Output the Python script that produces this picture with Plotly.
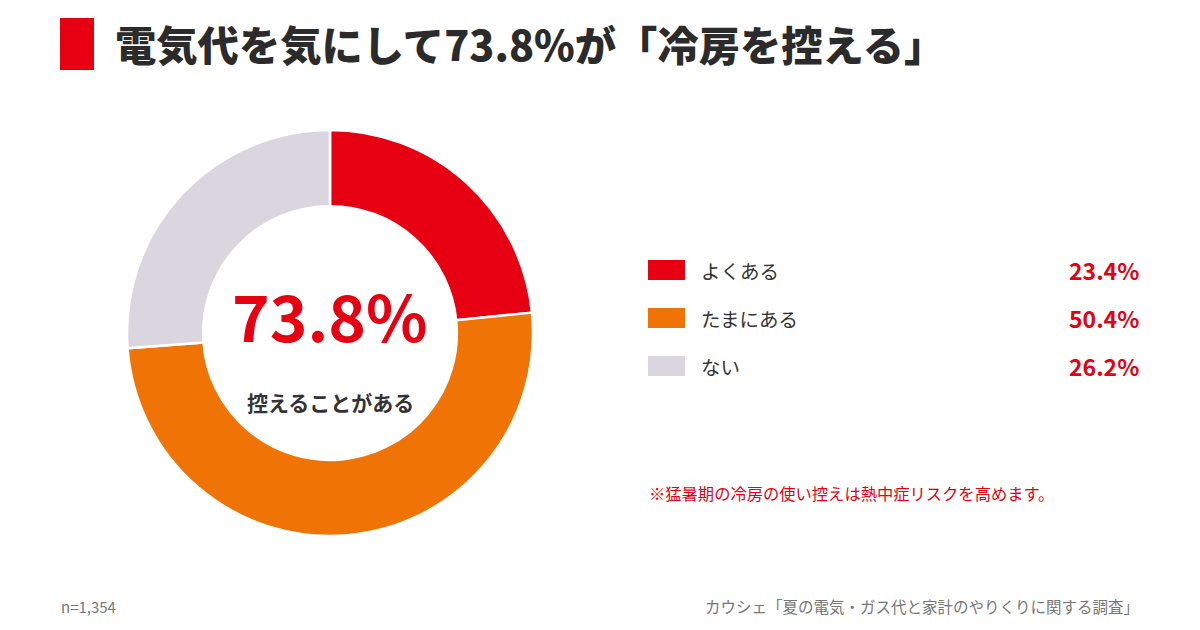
import plotly.graph_objects as go

categories = ["よくある", "たまにある", "ない"]
values = [23.4, 50.4, 26.2]
colors = ["#E60012", "#F07305", "#D9D6E0"]
value_labels = ["23.4%", "50.4%", "26.2%"]

title_text = "電気代を気にして73.8%が「冷房を控える」"
center_value = "73.8%"
center_label = "控えることがある"
note_text = "※猛暑期の冷房の使い控えは熱中症リスクを高めます。"
n_text = "n=1,354"
source_text = "カウシェ「夏の電気・ガス代と家計のやりくりに関する調査」"

W, H = 1200, 630
FONT = "Noto Sans CJK JP"

def px(x):
    return x / W

def py(y):
    return 1 - y / H

fig = go.Figure()
fig.add_trace(go.Pie(
    labels=categories,
    values=values,
    marker=dict(colors=colors, line=dict(color="white", width=2.5)),
    hole=0.625,
    sort=False,
    direction="clockwise",
    rotation=0,
    textinfo="none",
    hoverinfo="label+percent",
    showlegend=False,
    domain=dict(x=[px(127), px(533)], y=[py(536), py(130)]),
))

shapes = []
annotations = []

# Title bar
shapes.append(dict(type="rect", xref="paper", yref="paper",
                   x0=px(60), x1=px(94), y0=py(70), y1=py(18),
                   fillcolor="#E60012", line=dict(width=0)))
annotations.append(dict(text=title_text, xref="paper", yref="paper",
                        x=px(113), y=py(43), xanchor="left", yanchor="middle",
                        showarrow=False,
                        font=dict(family=FONT, size=41.3, color="#2b2b2b", weight=900)))

# Center text
annotations.append(dict(text="<b>" + center_value + "</b>", xref="paper", yref="paper",
                        x=px(330), y=py(314), xanchor="center", yanchor="middle",
                        showarrow=False, font=dict(family=FONT, size=64, color="#E60012")))
annotations.append(dict(text="<b>" + center_label + "</b>", xref="paper", yref="paper",
                        x=px(330), y=py(402), xanchor="center", yanchor="middle",
                        showarrow=False, font=dict(family=FONT, size=21, color="#333333")))

# Legend rows
row_y = [270, 318, 366]
for cat, col, vl, yy in zip(categories, colors, value_labels, row_y):
    shapes.append(dict(type="rect", xref="paper", yref="paper",
                       x0=px(648), x1=px(685), y0=py(yy + 10), y1=py(yy - 10),
                       fillcolor=col, line=dict(width=0)))
    annotations.append(dict(text=cat, xref="paper", yref="paper",
                            x=px(699), y=py(yy), xanchor="left", yanchor="middle",
                            showarrow=False, font=dict(family=FONT, size=19.5, color="#333333")))
    annotations.append(dict(text="<b>" + vl + "</b>", xref="paper", yref="paper",
                            x=px(1141), y=py(yy), xanchor="right", yanchor="middle",
                            showarrow=False, font=dict(family=FONT, size=23, color="#E60012")))

annotations.append(dict(text=note_text, xref="paper", yref="paper",
                        x=px(647), y=py(493), xanchor="left", yanchor="middle",
                        showarrow=False, font=dict(family=FONT, size=16.3, color="#E60012")))
annotations.append(dict(text=n_text, xref="paper", yref="paper",
                        x=px(59), y=py(606), xanchor="left", yanchor="middle",
                        showarrow=False, font=dict(family=FONT, size=15, color="#777777")))
annotations.append(dict(text=source_text, xref="paper", yref="paper",
                        x=px(1141), y=py(606), xanchor="right", yanchor="middle",
                        showarrow=False, font=dict(family=FONT, size=15.5, color="#777777")))

fig.update_layout(
    width=W, height=H,
    margin=dict(l=0, r=0, t=0, b=0),
    paper_bgcolor="white", plot_bgcolor="white",
    shapes=shapes, annotations=annotations,
    font=dict(family=FONT),
)

fig.write_html("out.html")
